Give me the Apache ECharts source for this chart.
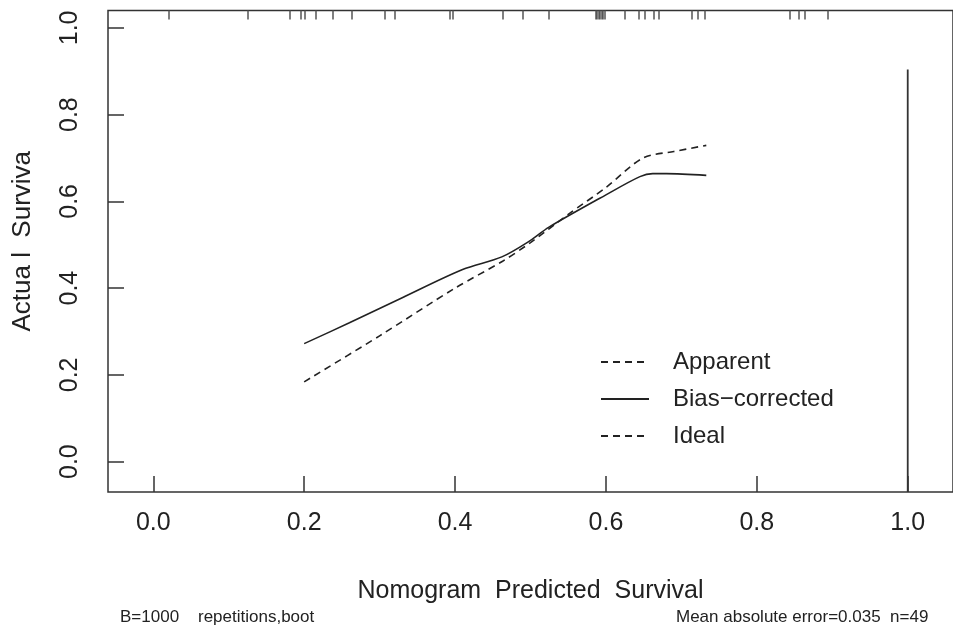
<!DOCTYPE html>
<html><head><meta charset="utf-8">
<script src="https://cdn.jsdelivr.net/npm/echarts@6/dist/echarts.min.js"></script>
<style>html,body{margin:0;padding:0;background:#fff}#c{width:953px;height:633px}</style>
</head><body><div id="c"></div>
<script>
// ---- data ----
const xTicks = [0, 0.2, 0.4, 0.6, 0.8, 1.0];
const xTickLabels = ['0.0', '0.2', '0.4', '0.6', '0.8', '1.0'];
const yTicks = [0, 0.2, 0.4, 0.6, 0.8, 1.0];
const yTickLabels = ['0.0', '0.2', '0.4', '0.6', '0.8', '1.0'];
const apparentX = [0.200, 0.300, 0.400, 0.463, 0.500, 0.550, 0.600, 0.649, 0.690, 0.733];
const apparentY = [0.184, 0.290, 0.400, 0.462, 0.505, 0.570, 0.632, 0.700, 0.715, 0.729];
const biasX = [0.200, 0.260, 0.330, 0.410, 0.462, 0.500, 0.524, 0.600, 0.645, 0.662, 0.680, 0.733];
const biasY = [0.272, 0.320, 0.378, 0.443, 0.472, 0.510, 0.540, 0.615, 0.657, 0.664, 0.664, 0.660];
const verticalX = [1.0, 1.0];
const verticalY = [-0.07, 0.904];
const rugValues = [0.021, 0.125, 0.181, 0.195, 0.201, 0.216, 0.238, 0.263, 0.307, 0.320, 0.393, 0.397,
  0.463, 0.490, 0.524, 0.586, 0.588, 0.590, 0.592, 0.594, 0.596, 0.598, 0.625, 0.643, 0.651, 0.664, 0.670,
  0.714, 0.722, 0.731, 0.843, 0.856, 0.863, 0.894];
const legendNames = ['Apparent', 'Bias\u2212corrected', 'Ideal'];
const footLeft = 'B=1000    repetitions,boot';
const footRight = 'Mean absolute error=0.035  n=49';
const xTitle = 'Nomogram  Predicted  Survival';
const yTitle = 'Actua l  Surviva';

const zip = (a, b) => a.map((v, i) => [v, b[i]]);
const FONT = '"Liberation Sans", Arial, sans-serif';
const INK = '#222';

const chart = echarts.init(document.getElementById('c'), null, {renderer: 'canvas'});
chart.setOption({
  backgroundColor: '#fff',
  animation: false,
  grid: {left: 108, top: 10.5, right: -21, bottom: 141, show: true, borderColor: '#333', borderWidth: 1.5, backgroundColor: 'transparent'},
  xAxis: [{
    type: 'value', min: -0.06, max: 1.06, position: 'bottom',
    axisLine: {show: false, onZero: false}, splitLine: {show: false},
    axisTick: {show: true, inside: true, length: 16, customValues: xTicks, lineStyle: {color: '#333', width: 1.5}},
    axisLabel: {customValues: xTicks, margin: 19, fontSize: 25, color: INK, fontFamily: FONT,
      formatter: v => xTickLabels[xTicks.findIndex(t => Math.abs(t - v) < 1e-9)]},
    name: xTitle, nameLocation: 'middle', nameGap: 87,
    nameTextStyle: {fontSize: 25, color: INK, fontFamily: FONT}
  }, {
    type: 'value', min: -0.06, max: 1.06, position: 'top',
    axisLine: {show: false, onZero: false}, splitLine: {show: false},
    axisTick: {show: true, inside: true, length: 9, customValues: rugValues, lineStyle: {color: '#555', width: 1.5}},
    axisLabel: {show: false}
  }],
  yAxis: {
    type: 'value', min: -0.07, max: 1.04,
    axisLine: {show: false, onZero: false}, splitLine: {show: false},
    axisTick: {show: true, inside: true, length: 16, customValues: yTicks, lineStyle: {color: '#333', width: 1.5}},
    axisLabel: {customValues: yTicks, margin: 25, rotate: 90, fontSize: 25, color: INK, fontFamily: FONT,
      formatter: v => yTickLabels[yTicks.findIndex(t => Math.abs(t - v) < 1e-9)]},
    name: yTitle, nameLocation: 'middle', nameGap: 72, nameRotate: 90,
    nameTextStyle: {fontSize: 26, color: INK, fontFamily: FONT, padding: [0, 0, 0, 20]}
  },
  legend: {
    orient: 'vertical', left: 595, top: 345, itemWidth: 48, itemHeight: 14, itemGap: 13,
    data: legendNames,
    itemStyle: {opacity: 0},
    textStyle: {fontSize: 24, lineHeight: 24, color: INK, fontFamily: FONT, padding: [0, 0, 0, 19]}
  },
  series: [{
    name: legendNames[0], type: 'line', data: zip(apparentX, apparentY), symbol: 'none', smooth: 0.3,
    lineStyle: {color: INK, width: 1.6, type: [7, 5]}, itemStyle: {color: INK}
  }, {
    name: legendNames[1], type: 'line', data: zip(biasX, biasY), symbol: 'none', smooth: 0.3,
    lineStyle: {color: INK, width: 1.6, type: 'solid'}, itemStyle: {color: INK}
  }, {
    name: legendNames[2], type: 'line', data: [], symbol: 'none',
    lineStyle: {color: INK, width: 1.6, type: [7, 5]}, itemStyle: {color: INK}
  }, {
    name: 'vline', type: 'line', data: zip(verticalX, verticalY), symbol: 'none',
    lineStyle: {color: '#333', width: 1.8}
  }],
  graphic: [
    {type: 'text', left: 120, top: 609, style: {text: footLeft, fontSize: 17, fill: INK, fontFamily: FONT}},
    {type: 'text', left: 676, top: 609, style: {text: footRight, fontSize: 17, fill: INK, fontFamily: FONT}}
  ]
});
</script></body></html>
